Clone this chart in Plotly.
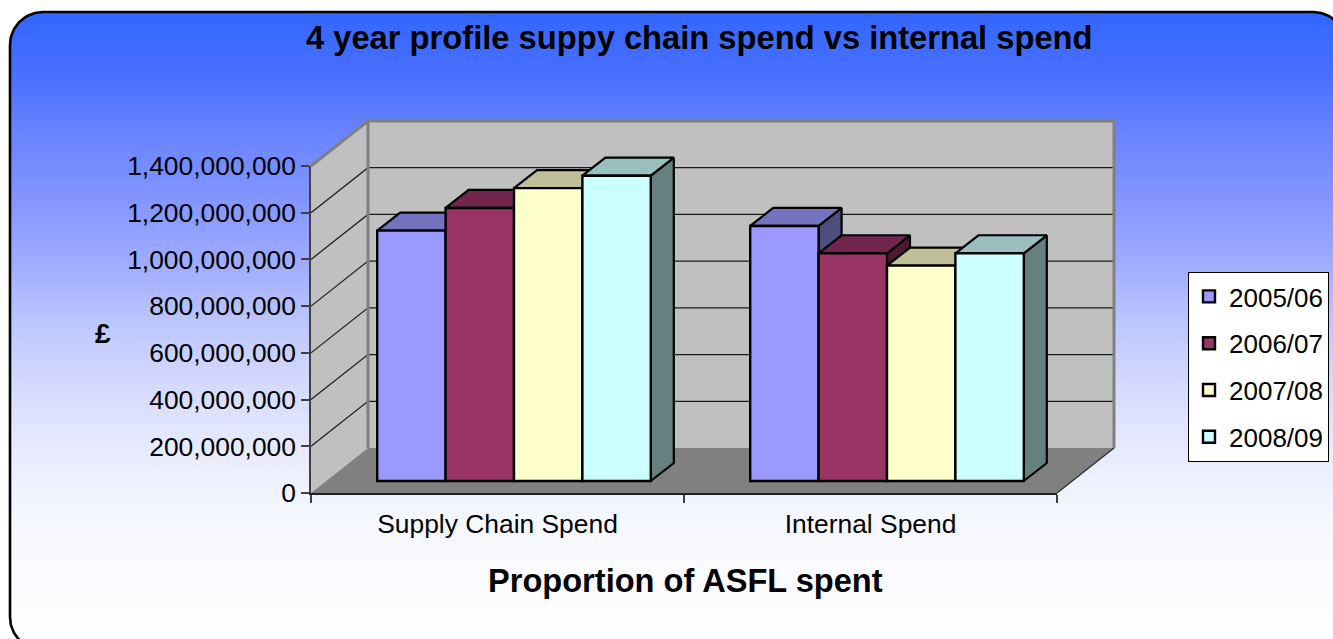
import numpy as np
import plotly.graph_objects as go

CATEGORIES = ["Supply Chain Spend", "Internal Spend"]
SERIES = ["2005/06", "2006/07", "2007/08", "2008/09"]
V_2005 = [1072000000, 1092000000]
V_2006 = [1169000000, 975000000]
V_2007 = [1254000000, 922000000]
V_2008 = [1307000000, 975000000]
VALUES = [V_2005, V_2006, V_2007, V_2008]
TICKS = [0, 200000000, 400000000, 600000000, 800000000, 1000000000, 1200000000, 1400000000]

FRONT = ["#9999FF", "#993366", "#FFFFCC", "#CCFFFF"]
TOP = ["#7373BF", "#73264D", "#BFBF99", "#99BFBF"]
SIDE = ["#4D4D80", "#4D1A33", "#808066", "#668080"]
GRADIENT = [[0, "#3366FF"], [0.1, "#4A70FF"], [0.2, "#6B85FF"], [0.3, "#8496FF"], [0.4, "#A0ACFF"],
            [0.5, "#BEC8FF"], [0.6, "#D6DBFF"], [0.7, "#E8EBFF"], [0.8, "#F5F7FF"], [0.9, "#FBFBFF"],
            [1, "#FEFEFF"]]

W, H = 1333, 639
# plot geometry, in pixels of the page
PX_L, PX_R, PY_0, PY_T = 311, 1057, 493, 166
S_L, S_R, S_B, S_T = 300, 1125, 500, 110   # roomier box for walls and depth faces
CAT_PX = (PX_R - PX_L) / 2
VAL_PX = (PY_0 - PY_T) / TICKS[-1]
XMIN, XMAX, YMAX = -0.5, 1.5, TICKS[-1]

# oblique projection of the depth axis (value/category units)
WALL_DX, WALL_DY = 57 / CAT_PX, 45 / VAL_PX
BAR_X0, BAR_Y0 = 16.5 / CAT_PX, 12 / VAL_PX       # shift of bar fronts off the front plane
BAR_DX, BAR_DY = 23 / CAT_PX, 18 / VAL_PX         # depth of a bar
BAR_W = 68.4 / CAT_PX

fig = go.Figure()

# ---- page background: rounded panel with vertical gradient
L, T, R, B, r = 10, 12, 1346, 650, 33
a = np.linspace(0, np.pi / 2, 24)
px = np.r_[L + r - r * np.cos(a), R - r + r * np.sin(a), R - r + r * np.cos(a), L + r - r * np.sin(a), L]
py = np.r_[T + r - r * np.sin(a), T + r - r * np.cos(a), B - r + r * np.sin(a), B - r + r * np.cos(a), T + r]
fig.add_trace(go.Scatter(
    x=px, y=H - py, mode="lines", fill="toself", xaxis="x", yaxis="y",
    line=dict(color="#000000", width=2.6), showlegend=False, hoverinfo="skip",
    fillgradient=dict(type="vertical", start=H - 14, stop=0, colorscale=GRADIENT),
))


def poly(xs, ys, fill=None, line="#000000", width=2.0):
    fig.add_trace(go.Scatter(
        x=list(xs), y=list(ys), mode="lines", xaxis="x2", yaxis="y2",
        fill="toself" if fill else "none", fillcolor=fill,
        line=dict(color=line, width=width), showlegend=False, hoverinfo="skip",
    ))


# ---- walls and floor
poly([XMIN, XMIN, XMIN + WALL_DX, XMIN + WALL_DX, XMIN],
     [0, YMAX, YMAX + WALL_DY, WALL_DY, 0], fill="#C0C0C0", line="rgba(0,0,0,0)", width=0)
poly([XMIN + WALL_DX, XMIN + WALL_DX, XMAX + WALL_DX, XMAX + WALL_DX, XMIN + WALL_DX],
     [WALL_DY, YMAX + WALL_DY, YMAX + WALL_DY, WALL_DY, WALL_DY], fill="#C0C0C0", line="rgba(0,0,0,0)", width=0)
poly([XMIN, XMIN + WALL_DX, XMAX + WALL_DX, XMAX, XMIN],
     [0, WALL_DY, WALL_DY, 0, 0], fill="#808080", line="rgba(0,0,0,0)", width=0)
for v in TICKS[1:-1]:
    poly([XMIN, XMIN + WALL_DX, XMAX + WALL_DX], [v, v + WALL_DY, v + WALL_DY], line="#1a1a1a", width=1.2)
poly([XMIN, XMIN + WALL_DX, XMAX + WALL_DX, XMAX + WALL_DX],
     [YMAX, YMAX + WALL_DY, YMAX + WALL_DY, WALL_DY], line="#808080", width=3)
poly([XMIN + WALL_DX, XMIN + WALL_DX], [WALL_DY, YMAX + WALL_DY], line="#808080", width=3)
poly([XMAX, XMAX + WALL_DX], [0, WALL_DY], line="#303030", width=1.4)

# ---- 3-D top and side faces, back to front
for c in range(len(CATEGORIES)):
    for s in range(len(SERIES)):
        v = VALUES[s][c]
        x0 = c + (s - 2) * BAR_W + BAR_X0
        x1 = x0 + BAR_W
        y0, y1 = BAR_Y0, BAR_Y0 + v
        poly([x1, x1 + BAR_DX, x1 + BAR_DX, x1, x1],
             [y0, y0 + BAR_DY, y1 + BAR_DY, y1, y0], fill=SIDE[s], width=2.2)
        poly([x0, x0 + BAR_DX, x1 + BAR_DX, x1, x0],
             [y1, y1 + BAR_DY, y1 + BAR_DY, y1, y1], fill=TOP[s], width=2.2)

# ---- bar fronts (later subplot, so they cover the neighbouring side faces)
for s, name in enumerate(SERIES):
    fig.add_trace(go.Bar(
        x=[c + (s - 2) * BAR_W + BAR_W / 2 + BAR_X0 for c in range(len(CATEGORIES))],
        y=VALUES[s], base=BAR_Y0, width=BAR_W, name=name, legendgroup=name,
        xaxis="x3", yaxis="y3", marker=dict(color=FRONT[s], line=dict(color="#000000", width=2.4)),
    ))

FONT = "Liberation Sans, Arial, sans-serif"
fig.update_layout(
    width=W, height=H, margin=dict(l=0, r=0, t=0, b=0, autoexpand=False), autosize=False,
    paper_bgcolor="#FFFFFF", plot_bgcolor="rgba(0,0,0,0)", barmode="overlay",
    font=dict(family=FONT, size=26, color="#000000"),
    xaxis=dict(domain=[0, 1], range=[0, W], visible=False, fixedrange=True),
    yaxis=dict(domain=[0, 1], range=[0, H], visible=False, fixedrange=True),
    xaxis2=dict(domain=[S_L / W, S_R / W], anchor="y2", visible=False,
                range=[XMIN + (S_L - PX_L) / CAT_PX, XMIN + (S_R - PX_L) / CAT_PX]),
    yaxis2=dict(domain=[(H - S_B) / H, (H - S_T) / H], anchor="x2", visible=False,
                range=[(PY_0 - S_B) / VAL_PX, (PY_0 - S_T) / VAL_PX]),
    xaxis3=dict(domain=[PX_L / W, PX_R / W], anchor="y3", range=[XMIN, XMAX], tickmode="array",
                tickvals=[0, 1], ticktext=CATEGORIES, ticks="", showgrid=False, zeroline=False,
                showline=True, linecolor="#202020", linewidth=1.5,
                tickfont=dict(size=26.4), ticklabelstandoff=7,
                minor=dict(tickmode="array", tickvals=[-0.5, 0.5, 1.5], ticks="outside", ticklen=8,
                           tickwidth=1.5, tickcolor="#404040", showgrid=False)),
    yaxis3=dict(domain=[(H - PY_0) / H, (H - PY_T) / H], anchor="x3", range=[0, YMAX], tickmode="array",
                tickvals=TICKS, tickformat=",d", ticks="outside", ticklen=8, tickwidth=1.5,
                tickcolor="#404040", showgrid=False, zeroline=False, showline=True,
                linecolor="#404040", linewidth=1.5, tickfont=dict(size=26.4)),
    legend=dict(x=1188 / W, y=(H - 272) / H, xanchor="left", yanchor="top", bgcolor="#FFFFFF",
                bordercolor="#000000", borderwidth=1, tracegroupgap=10,
                font=dict(size=26), traceorder="grouped"),
    annotations=[
        dict(text="<b>4 year profile suppy chain spend vs internal spend</b>", x=699 / W, y=(H - 38) / H,
             xref="paper", yref="paper", xanchor="center", yanchor="middle", showarrow=False, font=dict(size=32.7)),
        dict(text="<b>Proportion of ASFL spent</b>", x=685 / W, y=(H - 580) / H,
             xref="paper", yref="paper", xanchor="center", yanchor="middle", showarrow=False, font=dict(size=32.6)),
        dict(text="<b>£</b>", x=103 / W, y=(H - 333) / H,
             xref="paper", yref="paper", xanchor="center", yanchor="middle", showarrow=False, font=dict(size=28)),
    ],
)

fig.write_html("out.html", config={"displayModeBar": False},
               post_script="document.body.style.margin='0';document.body.style.overflow='hidden';")
